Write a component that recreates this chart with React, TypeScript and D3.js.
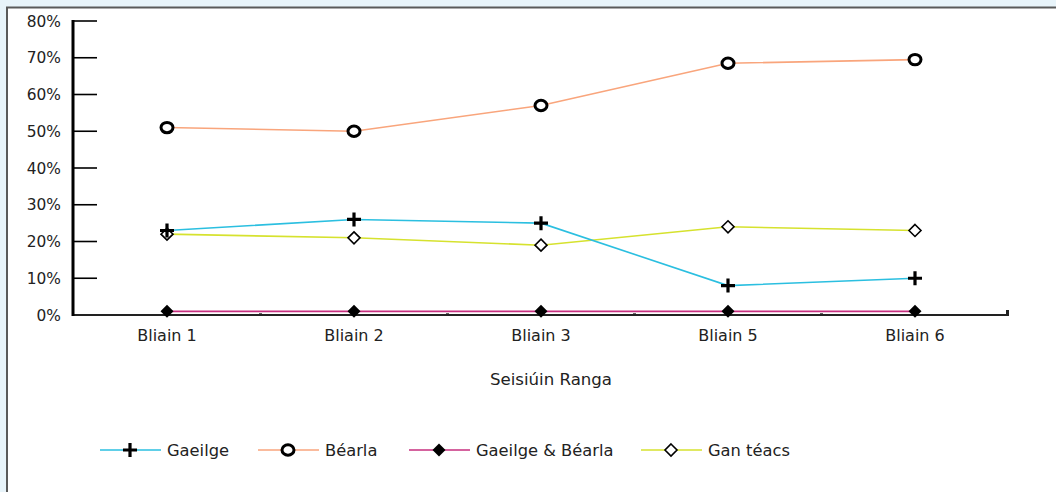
import React, { useEffect, useRef } from "react";
import * as d3 from "d3";

// chart data
const categories = ["Bliain 1", "Bliain 2", "Bliain 3", "Bliain 5", "Bliain 6"];
const gaeilge = [23, 26, 25, 8, 10];
const bearla = [51, 50, 57, 68.5, 69.5];
const gaeilgeBearla = [1, 1, 1, 1, 1];
const ganTeacs = [22, 21, 19, 24, 23];
const yTicks = [0, 10, 20, 30, 40, 50, 60, 70, 80];

interface Series {
  name: string;
  values: number[];
  color: string;
  marker: string;
}

const series: Series[] = [
  { name: "Gaeilge", values: gaeilge, color: "#2bbfe0", marker: "plus" },
  { name: "Béarla", values: bearla, color: "#f9a57c", marker: "ring" },
  { name: "Gaeilge & Béarla", values: gaeilgeBearla, color: "#c72f7f", marker: "diamond" },
  { name: "Gan téacs", values: ganTeacs, color: "#d6e22e", marker: "openDiamond" },
];

const W = 1056;
const H = 492;
const FONT = "'DejaVu Sans', sans-serif";

export default function App() {
  const ref = useRef<SVGSVGElement>(null);

  useEffect(() => {
    const svg = d3.select(ref.current);
    svg.selectAll("*").remove();

    // page background + white panel
    svg.append("rect").attr("width", W).attr("height", H).attr("fill", "#e8f4fa");
    svg
      .append("rect")
      .attr("x", 7)
      .attr("y", 7.5)
      .attr("width", W)
      .attr("height", H)
      .attr("fill", "#fff")
      .attr("stroke", "#5a5a5a")
      .attr("stroke-width", 2);

    const x = d3.scaleBand().domain(categories).range([73.5, 1008.5]);
    const y = d3.scaleLinear().domain([0, 80]).range([315, 21]);
    const cx = (c: string) => (x(c) as number) + x.bandwidth() / 2;

    const g = svg.append("g");

    // y ticks + labels
    yTicks.forEach((t) => {
      g.append("line")
        .attr("x1", 73)
        .attr("x2", 97)
        .attr("y1", y(t))
        .attr("y2", y(t))
        .attr("stroke", "#000")
        .attr("stroke-width", 1.6);
      g.append("text")
        .attr("x", 61)
        .attr("y", y(t) + 5.5)
        .attr("text-anchor", "end")
        .attr("font-family", FONT)
        .attr("font-size", 15.4)
        .attr("fill", "#222")
        .text(t + "%");
    });

    // x axis line
    g.append("line")
      .attr("x1", 72)
      .attr("x2", 1008)
      .attr("y1", 315)
      .attr("y2", 315)
      .attr("stroke", "#222")
      .attr("stroke-width", 2);
    g.append("line")
      .attr("x1", 1007.5)
      .attr("x2", 1007.5)
      .attr("y1", 316)
      .attr("y2", 310)
      .attr("stroke", "#222")
      .attr("stroke-width", 3);

    // y axis (thick)
    g.append("line")
      .attr("x1", 73)
      .attr("x2", 73)
      .attr("y1", 20)
      .attr("y2", 316)
      .attr("stroke", "#000")
      .attr("stroke-width", 3);

    // minor ticks between categories
    categories.slice(1).forEach((c) => {
      const xx = x(c) as number;
      g.append("rect")
        .attr("x", xx - 1.5)
        .attr("y", 310)
        .attr("width", 3)
        .attr("height", 4)
        .attr("fill", "#333");
    });

    // x labels
    categories.forEach((c) => {
      g.append("text")
        .attr("x", cx(c))
        .attr("y", 341)
        .attr("text-anchor", "middle")
        .attr("font-family", FONT)
        .attr("font-size", 16)
        .attr("fill", "#222")
        .text(c);
    });

    g.append("text")
      .attr("x", 551)
      .attr("y", 385)
      .attr("text-anchor", "middle")
      .attr("font-family", FONT)
      .attr("font-size", 16.6)
      .attr("fill", "#222")
      .text("Seisiúin Ranga");

    const drawMarker = (sel: any, kind: string, px: number, py: number) => {
      if (kind === "plus") {
        sel.append("path")
          .attr("d", `M${px - 7},${py}H${px + 7}M${px},${py - 7}V${py + 7}`)
          .attr("stroke", "#000")
          .attr("stroke-width", 3.2);
      } else if (kind === "ring") {
        sel.append("ellipse")
          .attr("cx", px)
          .attr("cy", py)
          .attr("rx", 6)
          .attr("ry", 5.2)
          .attr("fill", "#fff")
          .attr("stroke", "#000")
          .attr("stroke-width", 3);
      } else if (kind === "diamond") {
        sel.append("path")
          .attr("d", `M${px},${py - 6.5}L${px + 6.5},${py}L${px},${py + 6.5}L${px - 6.5},${py}Z`)
          .attr("fill", "#000");
      } else {
        sel.append("path")
          .attr("d", `M${px},${py - 6}L${px + 6},${py}L${px},${py + 6}L${px - 6},${py}Z`)
          .attr("fill", "#fff")
          .attr("stroke", "#000")
          .attr("stroke-width", 1.6);
      }
    };

    const line = d3
      .line<number>()
      .x((_, i) => cx(categories[i]))
      .y((d) => y(d));

    // draw order: magenta, yellow, cyan, orange
    const order = [2, 3, 0, 1];
    order.forEach((si) => {
      const s = series[si];
      if (si === 2) {
        g.append("path")
          .attr("d", line(s.values) as string)
          .attr("fill", "none")
          .attr("stroke", "#fff")
          .attr("stroke-width", 4);
      }
      g.append("path")
        .attr("d", line(s.values) as string)
        .attr("fill", "none")
        .attr("stroke", s.color)
        .attr("stroke-width", 1.6);
    });
    order.forEach((si) => {
      const s = series[si];
      s.values.forEach((v, i) => drawMarker(g, s.marker, cx(categories[i]), y(v)));
    });

    // legend
    const legendX = [100, 258, 409, 641];
    series.forEach((s, i) => {
      const lx = legendX[i];
      const ly = 450;
      g.append("line")
        .attr("x1", lx)
        .attr("x2", lx + 61)
        .attr("y1", ly)
        .attr("y2", ly)
        .attr("stroke", s.color)
        .attr("stroke-width", 1.6);
      drawMarker(g, s.marker, lx + 30, ly);
      g.append("text")
        .attr("x", lx + 67)
        .attr("y", ly + 6)
        .attr("font-family", FONT)
        .attr("font-size", 16.3)
        .attr("fill", "#222")
        .text(s.name);
    });
  }, []);

  return (
    <svg
      ref={ref}
      width={W}
      height={H}
      style={{ position: "absolute", left: 0, top: 0 }}
    />
  );
}
